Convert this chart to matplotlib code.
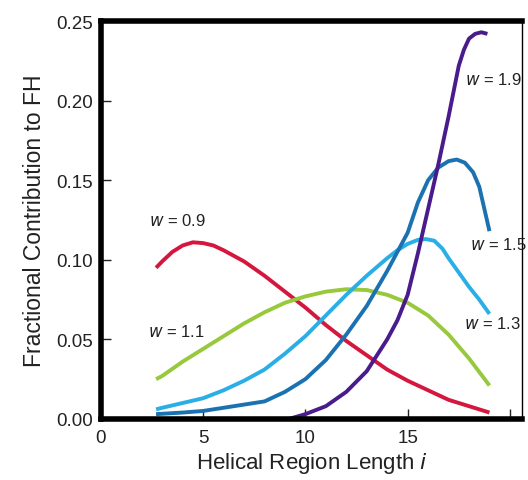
import matplotlib
matplotlib.use("Agg")
import matplotlib.pyplot as plt

plt.rcParams['font.family'] = ['Liberation Sans', 'DejaVu Sans']

# Data
x_09 = [2.7, 3, 3.5, 4, 4.5, 5, 5.5, 6, 7, 8, 9, 10, 11, 12, 13, 14, 15, 16, 17, 18, 19]
y_09 = [0.095, 0.099, 0.105, 0.109, 0.111, 0.1105, 0.109, 0.106, 0.099, 0.090,
        0.080, 0.070, 0.059, 0.049, 0.040, 0.031, 0.024, 0.018, 0.012, 0.008, 0.004]

x_11 = [2.7, 3, 4, 5, 6, 7, 8, 9, 10, 11, 12, 13, 14, 15, 16, 17, 18, 19]
y_11 = [0.025, 0.027, 0.036, 0.044, 0.052, 0.060, 0.067, 0.073, 0.077, 0.080,
        0.0815, 0.081, 0.078, 0.073, 0.065, 0.053, 0.038, 0.021]

x_13 = [2.7, 3, 4, 5, 6, 7, 8, 9, 10, 11, 12, 13, 14, 14.5, 15, 15.5, 15.9,
        16.3, 16.7, 17, 17.5, 18, 18.5, 19]
y_13 = [0.006, 0.007, 0.010, 0.013, 0.018, 0.024, 0.031, 0.041, 0.052, 0.065,
        0.078, 0.090, 0.101, 0.106, 0.110, 0.1125, 0.113, 0.112, 0.107, 0.101,
        0.092, 0.083, 0.075, 0.066]

x_15 = [2.7, 4, 5, 6, 7, 8, 9, 10, 11, 12, 13, 14, 15, 15.5, 16, 16.5, 17,
        17.4, 17.8, 18.2, 18.5, 19]
y_15 = [0.003, 0.004, 0.005, 0.007, 0.009, 0.011, 0.017, 0.025, 0.037, 0.053,
        0.071, 0.093, 0.117, 0.136, 0.150, 0.158, 0.162, 0.163, 0.161, 0.155,
        0.146, 0.118]

x_19 = [9.2, 10, 11, 12, 13, 14, 14.5, 15, 15.5, 16, 16.5, 17, 17.5, 17.75,
        18, 18.3, 18.6, 18.9]
y_19 = [0.0, 0.003, 0.008, 0.017, 0.030, 0.050, 0.062, 0.078, 0.104, 0.132,
        0.160, 0.190, 0.222, 0.232, 0.239, 0.242, 0.243, 0.242]

x_ticks = [0, 5, 10, 15, 20]
x_tick_labels = ['0', '5', '10', '15', '']
y_ticks = [0.00, 0.05, 0.10, 0.15, 0.20, 0.25]
y_tick_labels = ['0.00', '0.05', '0.10', '0.15', '0.20', '0.25']

fig = plt.figure(figsize=(5.28, 4.81), dpi=100)
ax = fig.add_axes([0.191, 0.127, 0.798, 0.827])

lw = 2.8
for xs, ys, c in [(x_09, y_09, '#d5173f'), (x_11, y_11, '#98c83c'),
                  (x_13, y_13, '#2aaee6'), (x_15, y_15, '#1b72b0'),
                  (x_19, y_19, '#4a1b8c')]:
    ax.plot(xs, ys, color=c, lw=lw, solid_capstyle='butt',
            solid_joinstyle='round')

ax.set_xlim(0, 20.6)
ax.set_ylim(0, 0.25)
ax.set_xticks(x_ticks)
ax.set_xticklabels(x_tick_labels)
ax.set_yticks(y_ticks)
ax.set_yticklabels(y_tick_labels)
ax.tick_params(direction='in', length=7, width=1, labelsize=13.5, pad=6,
               colors='#222222')
ax.tick_params(axis='x', pad=7)

for s in ['left', 'bottom', 'top']:
    ax.spines[s].set_linewidth(4)
ax.spines['right'].set_linewidth(1)

ax.set_xlabel('Helical Region Length $\\it{i}$', fontsize=16, labelpad=3,
              color='#222222')
ax.set_ylabel('Fractional Contribution to FH', fontsize=16.5, labelpad=7,
              color='#222222')

fs = 12
tc = '#222222'
ax.text(3.75, 0.125, '$\\it{w}$ = 0.9', fontsize=fs, ha='center', va='center', color=tc)
ax.text(3.7, 0.055, '$\\it{w}$ = 1.1', fontsize=fs, ha='center', va='center', color=tc)
ax.text(19.2, 0.2136, '$\\it{w}$ = 1.9', fontsize=fs, ha='center', va='center', color=tc)
ax.text(19.45, 0.110, '$\\it{w}$ = 1.5', fontsize=fs, ha='center', va='center', color=tc)
ax.text(19.15, 0.060, '$\\it{w}$ = 1.3', fontsize=fs, ha='center', va='center', color=tc)

fig.savefig('out.png', dpi=100)
